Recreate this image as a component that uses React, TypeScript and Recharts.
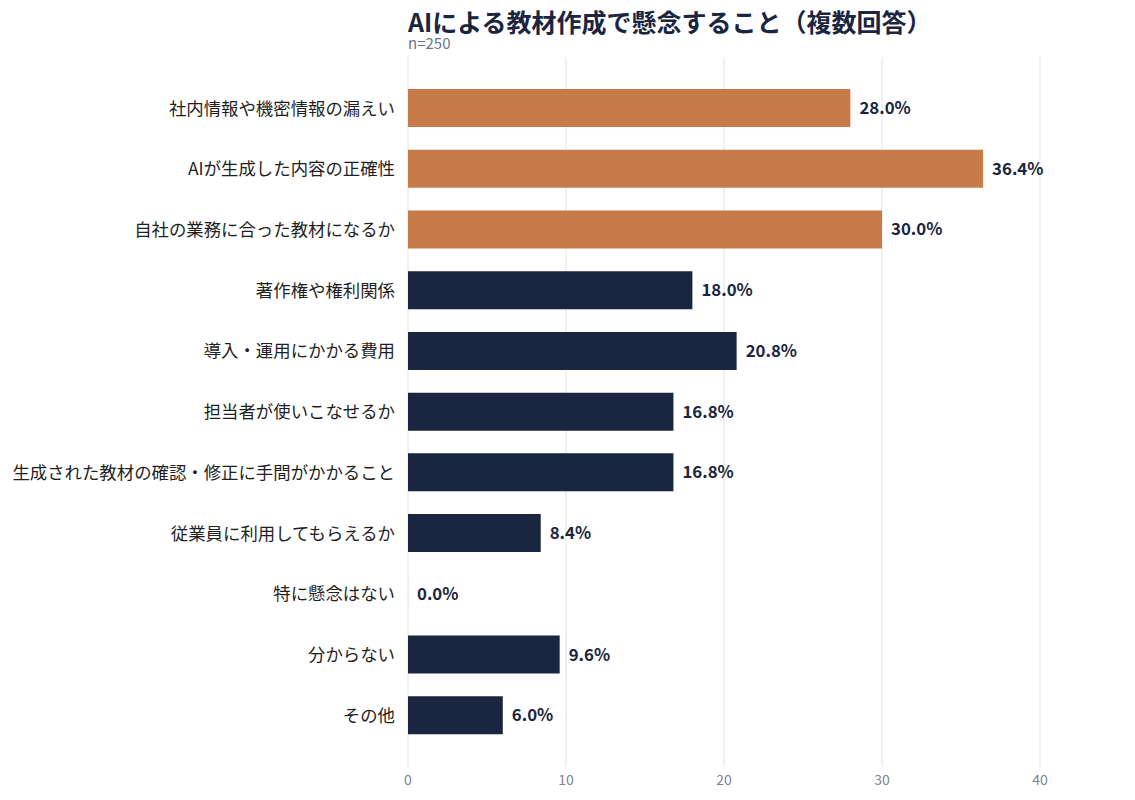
import { BarChart, Bar, XAxis, YAxis, CartesianGrid, Cell, LabelList } from "recharts";

const categories = [
  "社内情報や機密情報の漏えい",
  "AIが生成した内容の正確性",
  "自社の業務に合った教材になるか",
  "著作権や権利関係",
  "導入・運用にかかる費用",
  "担当者が使いこなせるか",
  "生成された教材の確認・修正に手間がかかること",
  "従業員に利用してもらえるか",
  "特に懸念はない",
  "分からない",
  "その他",
];
const values = [28.0, 36.4, 30.0, 18.0, 20.8, 16.8, 16.8, 8.4, 0.0, 9.6, 6.0];
const highlighted = [true, true, true, false, false, false, false, false, false, false, false];
const xTicks = [0, 10, 20, 30, 40];

const FONT = "'Noto Sans CJK JP', 'Noto Sans', sans-serif";
const ORANGE = "#c87b4a";
const NAVY = "#1a2540";

const data = categories.map((name, i) => ({ name, value: values[i], hi: highlighted[i] }));

// draws the % label at the bar end, zero-width bars included
function ValueLabel(props: any) {
  const { x, y, width, height, value } = props;
  if (value == null) return null;
  return (
    <text
      x={Number(x) + Number(width || 0) + 9}
      y={Number(y) + Number(height) / 2 - 1}
      dominantBaseline="central"
      textAnchor="start"
      fill={NAVY}
      fontSize={16.8}
      fontWeight={700}
      fontFamily={FONT}
    >
      {`${Number(value).toFixed(1)}%`}
    </text>
  );
}

export default function App() {
  return (
    <div style={{ position: "absolute", left: 0, top: 0, width: 1135, height: 800, background: "#fff", fontFamily: FONT }}>
      <div style={{ position: "absolute", left: 408, top: 9, fontSize: 25, lineHeight: "25px", fontWeight: 700, color: NAVY, whiteSpace: "nowrap" }}>
        AIによる教材作成で懸念すること（複数回答）
      </div>
      <div style={{ position: "absolute", left: 408, top: 36, fontSize: 15, lineHeight: "14px", color: "#6b7385" }}>
        n=250
      </div>
      <BarChart
        width={1135}
        height={800}
        data={data}
        layout="vertical"
        margin={{ top: 57, right: 95, left: 0, bottom: 0 }}
      >
        <CartesianGrid horizontal={false} stroke="#dde1e8" />
        <XAxis
          type="number"
          domain={[0, 40]}
          ticks={xTicks}
          axisLine={false}
          tickLine={false}
          height={33}
          tick={{ fill: "#7a8398", fontSize: 14, fontFamily: FONT }}
        />
        <YAxis
          type="category"
          dataKey="name"
          width={408}
          axisLine={false}
          tickLine={false}
          tickMargin={7}
          padding={{ top: 21, bottom: 21 }}
          interval={0}
          tick={{ fill: "#1f1f1f", fontSize: 17.4, fontFamily: FONT }}
        />
        <Bar dataKey="value" barSize={38} minPointSize={(v: number) => (v === 0 ? 0.01 : 0)} isAnimationActive={false}>
          {data.map((d, i) => (
            <Cell key={i} fill={d.hi ? ORANGE : NAVY} />
          ))}
          <LabelList dataKey="value" content={ValueLabel} />
        </Bar>
      </BarChart>
    </div>
  );
}
